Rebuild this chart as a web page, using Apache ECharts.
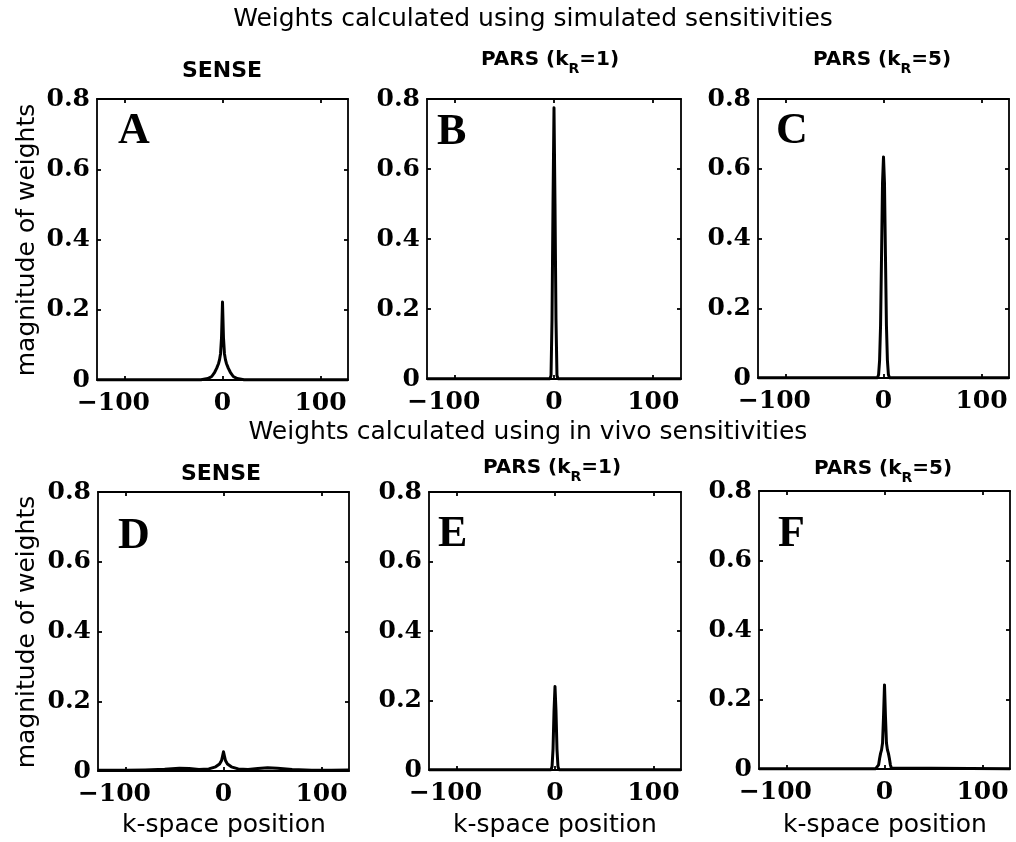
<!DOCTYPE html>
<html>
<head>
<meta charset="utf-8">
<script src="https://cdn.jsdelivr.net/npm/echarts@6/dist/echarts.min.js"></script>
<style>
  html, body { margin: 0; padding: 0; background: #fff; }
  #chart { width: 1016px; height: 842px; }
</style>
</head>
<body>
<div id="chart"></div>
<script>
// k-space positions and weight magnitudes
var kA = [-128, -22, -15, -11, -8, -6, -4, -3, -2, -1, 0, 1, 2, 3, 4, 6, 8, 11, 15, 22, 128];
var wA = [0.001, 0.001, 0.004, 0.01, 0.022, 0.033, 0.047, 0.058, 0.075, 0.12, 0.222, 0.12, 0.075, 0.058, 0.047, 0.033, 0.022, 0.01, 0.004, 0.001, 0.001];

var kB = [-128, -4, -3, -2, -1, 0, 1, 2, 3, 4, 128];
var wB = [0.001, 0.001, 0.01, 0.17, 0.5, 0.775, 0.5, 0.17, 0.01, 0.001, 0.001];

var kC = [-128, -6, -5, -4, -3, -2, -1, 0, 1, 2, 3, 4, 5, 6, 128];
var wC = [0.001, 0.001, 0.01, 0.05, 0.15, 0.35, 0.56, 0.634, 0.56, 0.35, 0.15, 0.05, 0.01, 0.001, 0.001];

var kD = [-128, -100, -80, -60, -45, -35, -25, -15, -8, -4, -2, -1, 0, 1, 2, 4, 8, 15, 25, 35, 45, 55, 70, 90, 110, 128];
var wD = [0.002, 0.002, 0.003, 0.005, 0.008, 0.007, 0.004, 0.006, 0.012, 0.02, 0.03, 0.042, 0.055, 0.042, 0.03, 0.02, 0.012, 0.006, 0.004, 0.007, 0.009, 0.008, 0.004, 0.002, 0.002, 0.003];

var kE = [-128, -4, -3, -2, -1, 0, 1, 2, 3, 4, 128];
var wE = [0.001, 0.001, 0.01, 0.06, 0.17, 0.24, 0.17, 0.06, 0.01, 0.001, 0.001];

var kF = [-128, -9, -7, -6, -5, -4, -3, -2, -1, 0, 1, 2, 3, 4, 5, 6, 7, 9, 128];
var wF = [0.001, 0.001, 0.003, 0.012, 0.03, 0.045, 0.055, 0.075, 0.15, 0.242, 0.15, 0.075, 0.055, 0.045, 0.03, 0.012, 0.003, 0.001, 0.001];

var kTicks = [-100, 0, 100];

var panels = [[kA, wA], [kB, wB], [kC, wC], [kD, wD], [kE, wE], [kF, wF]];

var grids = [
  { left: 97,  top: 99,  width: 251, height: 281 },
  { left: 427, top: 99,  width: 254, height: 280 },
  { left: 758, top: 99,  width: 251, height: 279 },
  { left: 98,  top: 492, width: 251, height: 279 },
  { left: 429, top: 492, width: 252, height: 278 },
  { left: 759, top: 491, width: 251, height: 278 }
];

var tickFont = { fontFamily: 'DejaVu Serif', fontWeight: 'bold', fontSize: 25, color: '#000' };
var black = { color: '#000', width: 1.8 };

function xAxisFor(i, pos) {
  return {
    type: 'value', gridIndex: i, position: pos, min: -128, max: 128,
    axisLine: { show: true, onZero: false, lineStyle: black },
    axisTick: { show: true, inside: true, length: 4, customValues: kTicks, lineStyle: black },
    axisLabel: {
      show: pos === 'bottom', customValues: kTicks, margin: 11,
      fontFamily: tickFont.fontFamily, fontWeight: 'bold', fontSize: 25, color: '#000',
      formatter: function (v) {
        return v < 0 ? '{neg|\u2212' + Math.abs(v) + '}' : '{pos|' + v + '}';
      },
      rich: {
        neg: Object.assign({ padding: [0, 22, 0, 0] }, tickFont),
        pos: Object.assign({}, tickFont)
      }
    },
    splitLine: { show: false }
  };
}

function yAxisFor(i, pos) {
  return {
    type: 'value', gridIndex: i, position: pos, min: 0, max: 0.8, interval: 0.2,
    axisLine: { show: true, onZero: false, lineStyle: black },
    axisTick: { show: true, inside: true, length: 4, lineStyle: black },
    axisLabel: Object.assign({ show: pos === 'left', margin: 7 }, tickFont),
    splitLine: { show: false }
  };
}

var xAxes = [], yAxes = [], series = [];
grids.forEach(function (g, i) {
  xAxes.push(xAxisFor(i, 'bottom'), xAxisFor(i, 'top'));
  yAxes.push(yAxisFor(i, 'left'), yAxisFor(i, 'right'));
  var k = panels[i][0], w = panels[i][1];
  series.push({
    type: 'line', xAxisIndex: 2 * i, yAxisIndex: 2 * i,
    data: k.map(function (x, j) { return [x, w[j]]; }),
    showSymbol: false, symbol: 'none', clip: false,
    lineStyle: { color: '#000', width: 3, join: 'round', cap: 'butt' }
  });
});

var sans = 'DejaVu Sans';
function label(text, x, y, size, weight, rot) {
  return {
    type: 'text', x: x, y: y, rotation: rot || 0,
    style: {
      text: text, fill: '#000', fontFamily: sans, fontSize: size, fontWeight: weight || 'normal',
      textAlign: 'center', textVerticalAlign: 'middle'
    }
  };
}
function parsTitle(n, x, y) {
  return {
    type: 'text', x: x, y: y,
    style: {
      text: '{b|PARS (k}{s|R}{b|=' + n + ')}',
      textAlign: 'center', textVerticalAlign: 'middle', fill: '#000',
      rich: {
        b: { fontFamily: sans, fontWeight: 'bold', fontSize: 20, lineHeight: 20, verticalAlign: 'top', fill: '#000' },
        s: { fontFamily: sans, fontWeight: 'bold', fontSize: 14, lineHeight: 26, verticalAlign: 'bottom', fill: '#000' }
      }
    }
  };
}
function letter(t, x, y) {
  return {
    type: 'text', x: x, y: y,
    style: {
      text: t, fill: '#000', fontFamily: 'Liberation Serif', fontWeight: 'bold', fontSize: 44,
      textAlign: 'left', textVerticalAlign: 'middle'
    }
  };
}

var graphics = [
  label('Weights calculated using simulated sensitivities', 533, 19, 25),
  label('Weights calculated using in vivo sensitivities', 528, 432, 25),
  label('SENSE', 222, 71, 22, 'bold'),
  label('SENSE', 221, 474, 22, 'bold'),
  parsTitle(1, 550, 63),
  parsTitle(5, 882, 63),
  parsTitle(1, 552, 471),
  parsTitle(5, 883, 472),
  letter('A', 118, 132),
  letter('B', 437, 133),
  letter('C', 776, 132),
  letter('D', 118, 537),
  letter('E', 438, 535),
  letter('F', 778, 535),
  label('magnitude of weights', 27, 240, 25, 'normal', Math.PI / 2),
  label('magnitude of weights', 27, 632, 25, 'normal', Math.PI / 2),
  label('k-space position', 224, 825, 25),
  label('k-space position', 555, 825, 25),
  label('k-space position', 885, 825, 25)
];

var chart = echarts.init(document.getElementById('chart'), null, { renderer: 'canvas' });
chart.setOption({
  backgroundColor: '#fff',
  animation: false,
  grid: grids,
  xAxis: xAxes,
  yAxis: yAxes,
  series: series,
  graphic: graphics
});
</script>
</body>
</html>
